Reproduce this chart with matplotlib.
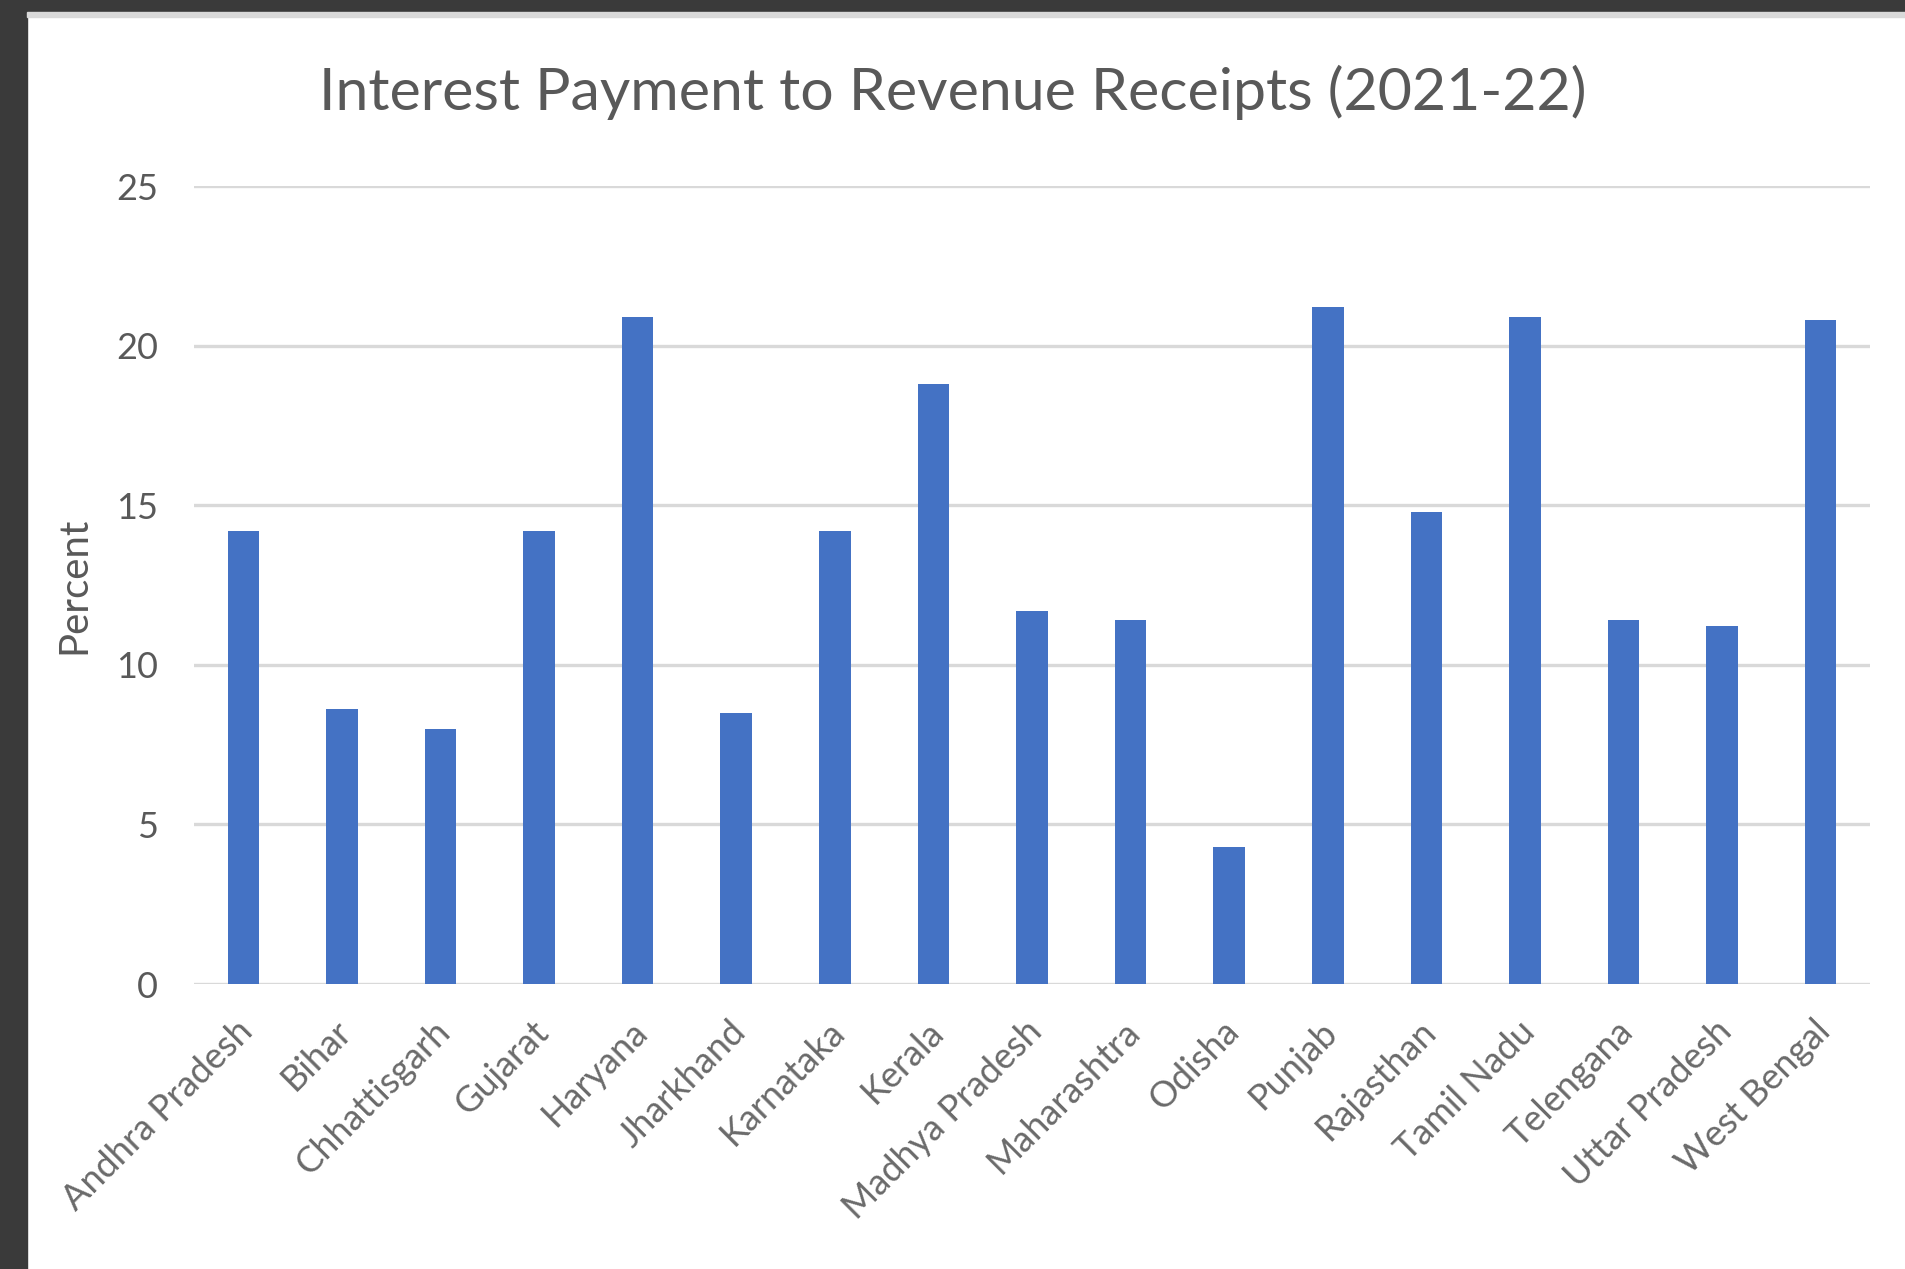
import matplotlib
matplotlib.use("Agg")
import matplotlib.pyplot as plt
from matplotlib.patches import Rectangle
from matplotlib.transforms import ScaledTranslation
import numpy as np

plt.rcParams['font.family'] = ['Lato', 'DejaVu Sans']

# interest payments as share of revenue receipts, 2021-22
states = ["Andhra Pradesh", "Bihar", "Chhattisgarh", "Gujarat", "Haryana",
          "Jharkhand", "Karnataka", "Kerala", "Madhya Pradesh", "Maharashtra",
          "Odisha", "Punjab", "Rajasthan", "Tamil Nadu", "Telengana",
          "Uttar Pradesh", "West Bengal"]
percent = [14.2, 8.6, 8.0, 14.2, 20.9, 8.5, 14.2, 18.8, 11.7, 11.4,
           4.3, 21.2, 14.8, 20.9, 11.4, 11.2, 20.8]
yticks = [0, 5, 10, 15, 20, 25]

W, H = 1906, 1269
fig = plt.figure(figsize=(W / 100, H / 100), dpi=100, facecolor="white")

# dark frame strips on the left and top edge
fig.add_artist(Rectangle((0, 0), 27 / W, 1, transform=fig.transFigure,
                         color="#3a3a3a", zorder=10))
fig.add_artist(Rectangle((0, 1 - 12 / H), 1, 12 / H, transform=fig.transFigure,
                         color="#3a3a3a", zorder=10))
fig.add_artist(Rectangle((27 / W, 1 - 17 / H), 1, 5 / H, transform=fig.transFigure,
                         color="#d9d9d9", zorder=10))

ax = fig.add_axes([194 / W, 1 - 984 / H, (1870 - 194) / W, (984 - 186) / H])

x = np.arange(len(states))
ax.bar(x, percent, width=0.32, color="#4472C4", zorder=3)

ax.set_xlim(-0.5, len(states) - 0.5)
ax.set_ylim(0, 25)
ax.set_yticks(yticks)
ax.set_yticklabels([str(t) for t in yticks], fontsize=26, color="#595959")
ax.set_xticks(x)
ax.set_xticklabels(states, rotation=45, ha="right", va="top", fontsize=26,
                   color="#6a6a6a")
ax.tick_params(axis="both", length=0)
ax.tick_params(axis="y", pad=26)
ax.tick_params(axis="x", pad=22)

# nudge the slanted category names so their ends sit just right of each bar
shift = ScaledTranslation(0.16, 0, fig.dpi_scale_trans)
for lbl in ax.get_xticklabels():
    lbl.set_transform(lbl.get_transform() + shift)

ax.grid(axis="y", color="#d9d9d9", linewidth=2.4, zorder=0)
for s in ax.spines.values():
    s.set_visible(False)

ax.set_ylabel("Percent", fontsize=29, color="#595959")
ax.yaxis.set_label_coords((92 - 194) / (1870 - 194), 0.5)

fig.text(0.5, 1 - 110 / H, "Interest Payment to Revenue Receipts (2021-22)",
         ha="center", va="baseline", fontsize=42.5, color="#595959")

fig.savefig("out.png", dpi=100, facecolor="white")
